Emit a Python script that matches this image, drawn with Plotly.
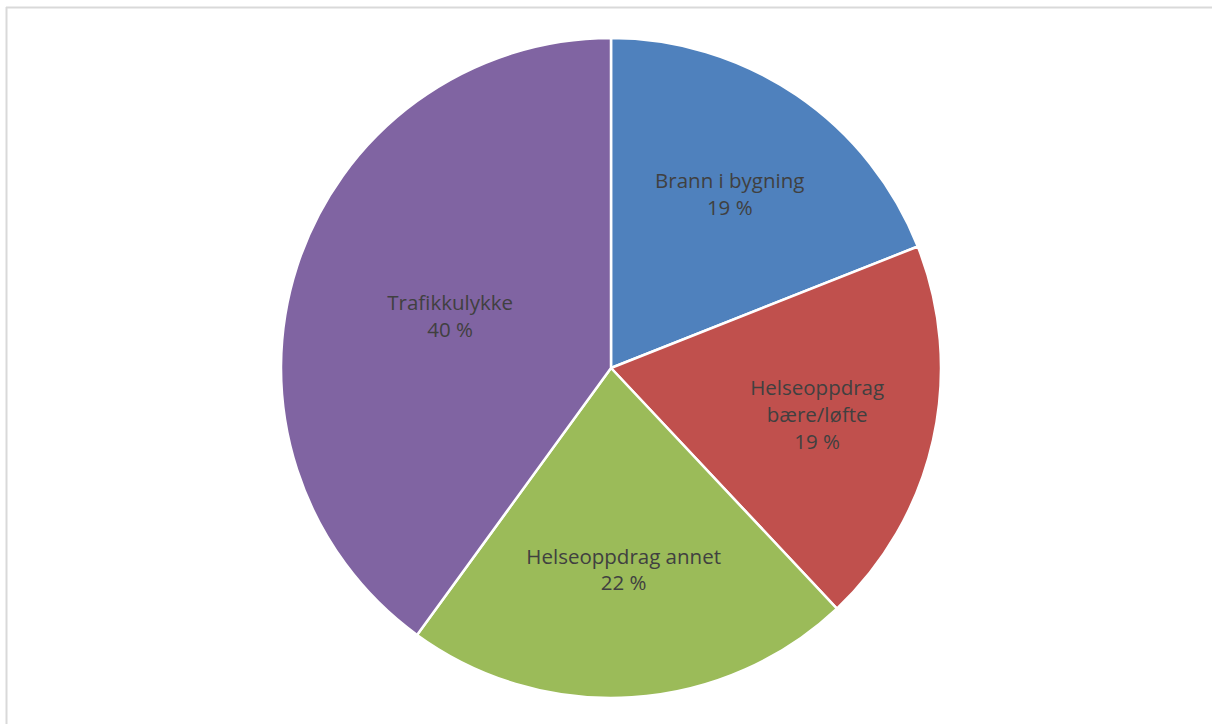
import plotly.graph_objects as go

categories = ["Brann i bygning", "Helseoppdrag bære/løfte", "Helseoppdrag annet", "Trafikkulykke"]
display_labels = ["Brann i bygning", "Helseoppdrag<br>bære/løfte", "Helseoppdrag annet", "Trafikkulykke"]
percent_values = [19, 19, 22, 40]
colors = ["#4F81BD", "#C0504D", "#9BBB59", "#8064A2"]

W, H = 1213, 724
cx, cy, R = 611, 368, 330

fig = go.Figure(go.Pie(
    labels=categories,
    values=percent_values,
    customdata=display_labels,
    texttemplate="%{customdata}<br>%{value} %",
    textposition="inside",
    insidetextorientation="horizontal",
    sort=False,
    direction="clockwise",
    rotation=0,
    marker=dict(colors=colors, line=dict(color="white", width=2.5)),
    textfont=dict(family="Open Sans, Lato, sans-serif", size=20.5, color="#404040"),
    showlegend=False,
    hoverinfo="label+percent",
    domain=dict(x=[(cx - R) / W, (cx + R) / W], y=[(H - cy - R) / H, (H - cy + R) / H]),
))

fig.update_layout(
    width=W, height=H,
    margin=dict(l=0, r=0, t=0, b=0),
    paper_bgcolor="white",
    shapes=[
        dict(type="line", xref="paper", yref="paper", x0=6/W, x1=1212/W, y0=1 - 7.5/H, y1=1 - 7.5/H,
             line=dict(color="#D9D9D9", width=2)),
        dict(type="line", xref="paper", yref="paper", x0=6.5/W, x1=6.5/W, y0=0, y1=1 - 7/H,
             line=dict(color="#D9D9D9", width=2)),
    ],
)

fig.write_html("out.html", config={"displayModeBar": False},
               post_script="document.body.style.margin='0';document.body.style.overflow='hidden';")
